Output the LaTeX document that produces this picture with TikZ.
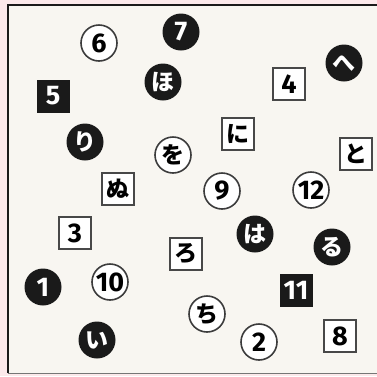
\documentclass[tikz,border=0pt]{standalone}
\usepackage{fontspec}
\setmainfont{Fira Sans}
\newfontfamily\jpfont{Noto Sans CJK JP}
\usepackage{xcolor}
\usetikzlibrary{positioning}

\definecolor{paper}{HTML}{F8F6F1}
\definecolor{margin}{HTML}{FCE9EB}
\definecolor{ink}{HTML}{1A1A1A}

\begin{document}
\begin{tikzpicture}[
  x=1pt, y=-1pt,
  big/.style={font=\fontsize{27}{27}\selectfont\bfseries},
  wcirc/.style={big, draw=ink!85, line width=1.6pt, circle, fill=white,
                minimum size=36pt, inner sep=0pt},
  bcirc/.style={big, circle, fill=ink, text=white, minimum size=37pt, inner sep=0pt},
  wsq/.style={big, draw=ink!80, line width=2pt, rectangle, fill=white,
              minimum size=32pt, inner sep=0pt},
  bsq/.style={big, rectangle, fill=ink, text=white, minimum size=33pt, inner sep=0pt},
  kana/.style={font=\fontsize{23}{23}\selectfont\jpfont\bfseries}
]
\useasboundingbox (0,0) rectangle (377,376);
\fill[margin] (0,0) rectangle (377,376);
\fill[paper] (8,5) rectangle (377,373);
\draw[ink, line width=2.5pt] (8,373) -- (8,5) -- (377,5);
\draw[ink!60, line width=1pt] (8,373) -- (377,373);

% numbers
\node[bcirc] (n1) at (43,287) {1};
\node[wcirc] (n2) at (259,342) {2};
\node[wsq] (n3) at (75,233) {3};
\node[wsq] (n4) at (289,84) {4};
\node[bsq] (n5) at (53,96) {5};
\node[wcirc] (n6) at (99,43) {6};
\node[bcirc] (n7) at (181,32) {7};
\node[wsq] (n8) at (340,336) {8};
\node[wcirc] (n9) at (222,191) {9};
\node[wcirc] (n10) at (110,282) {10};
\node[bsq] (n11) at (296,290) {11};
\node[wcirc] (n12) at (311,190) {12};

% kana
\node[bcirc, kana] (i) at (97,340) {い};
\node[wsq, kana] (ro) at (186,254) {ろ};
\node[bcirc, kana] (ha) at (255,234) {は};
\node[wsq, kana] (ni) at (238,134) {に};
\node[bcirc, kana] (ho) at (163,82) {ほ};
\node[bcirc, kana] (he) at (344,63) {へ};
\node[wsq, kana] (to) at (356,154) {と};
\node[wcirc, kana] (chi) at (207,314) {ち};
\node[bcirc, kana] (ri) at (85,142) {り};
\node[wsq, kana] (nu) at (118,189) {ぬ};
\node[bcirc, kana] (ru) at (332,247) {る};
\node[wcirc, kana] (wo) at (173,155) {を};
\end{tikzpicture}
\end{document}
